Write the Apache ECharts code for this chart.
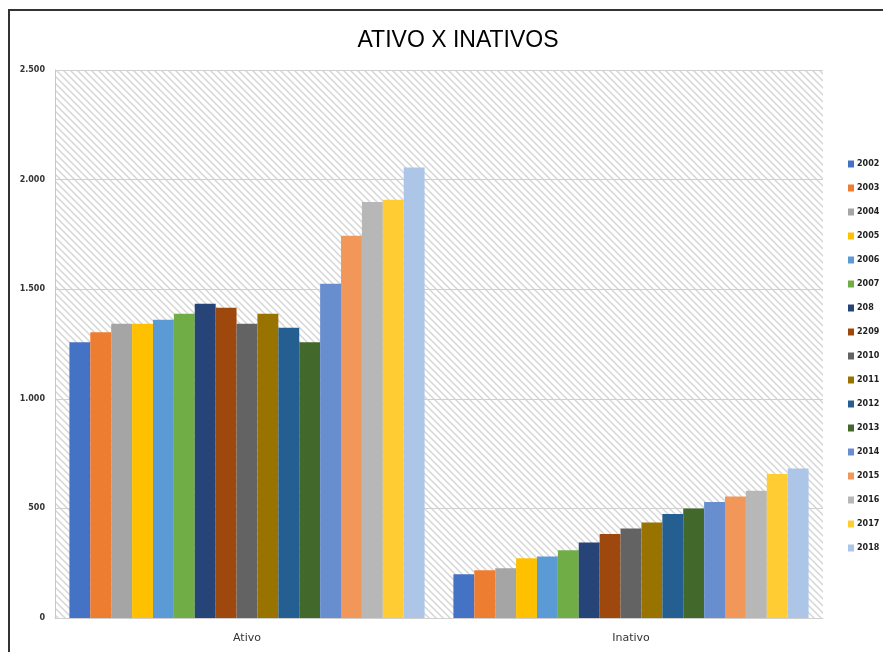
<!DOCTYPE html>
<html>
<head>
<meta charset="utf-8">
<script src="https://cdn.jsdelivr.net/npm/echarts@6/dist/echarts.min.js"></script>
<style>
  html, body { margin: 0; padding: 0; background: #fff; }
  #chart { width: 883px; height: 652px; }
</style>
</head>
<body>
<div id="chart"></div>
<script>
const categories = ['Ativo', 'Inativo'];
const years = ['2002', '2003', '2004', '2005', '2006', '2007', '208', '2209', '2010',
  '2011', '2012', '2013', '2014', '2015', '2016', '2017', '2018'];
const ativo = [1258, 1304, 1342, 1342, 1361, 1388, 1434, 1415, 1342, 1388, 1324, 1258, 1525, 1744, 1898, 1908, 2055];
const inativo = [200, 218, 227, 273, 280, 309, 344, 383, 408, 436, 474, 500, 529, 554, 580, 657, 682];
const colors = ['#4472C4', '#ED7D31', '#A5A5A5', '#FFC000', '#5B9BD5', '#70AD47', '#264478', '#9E480E',
  '#636363', '#997300', '#255E91', '#43682B', '#698ED0', '#F1975A', '#B7B7B7', '#FFCD33', '#ADC5E7'];

// hachura diagonal do fundo
function hatch() {
  const n = 7;
  const c = document.createElement('canvas');
  c.width = n; c.height = n;
  const ctx = c.getContext('2d');
  ctx.fillStyle = '#fff';
  ctx.fillRect(0, 0, n, n);
  ctx.strokeStyle = '#d6d6d6';
  ctx.lineWidth = 1.5;
  ctx.beginPath();
  ctx.moveTo(-1, -1); ctx.lineTo(n + 1, n + 1);
  ctx.moveTo(-1, n - 1); ctx.lineTo(1, n + 1);
  ctx.moveTo(n - 1, -1); ctx.lineTo(n + 1, 1);
  ctx.stroke();
  return c;
}

const fmt = v => v >= 1000 ? Math.floor(v / 1000) + '.' + String(v % 1000).padStart(3, '0') : String(v);

const chart = echarts.init(document.getElementById('chart'));
chart.setOption({
  animation: false,
  color: colors,
  title: {
    text: 'ATIVO X INATIVOS',
    left: 453, top: 24, textAlign: 'center',
    textStyle: { fontFamily: 'Liberation Sans Narrow, Liberation Sans', fontSize: 23, fontWeight: 'normal', color: '#000' }
  },
  graphic: [{
    type: 'rect', shape: { x: 9, y: 10, width: 900, height: 700 },
    style: { fill: 'none', stroke: '#333', lineWidth: 2 }, silent: true
  }],
  legend: {
    orient: 'vertical', left: 843, top: 155, itemWidth: 6, itemHeight: 7, itemGap: 16,
    icon: 'rect',
    textStyle: { fontSize: 8, fontWeight: 'bold', fontFamily: 'DejaVu Sans', color: '#222', padding: [0, 0, 0, -2] }
  },
  grid: {
    left: 55, right: 60, top: 70, bottom: 34, show: true,
    backgroundColor: { image: hatch(), repeat: 'repeat' }, borderWidth: 0
  },
  xAxis: {
    type: 'category', data: categories,
    axisLine: { lineStyle: { color: '#d0d0d0' } },
    axisTick: { show: false },
    axisLabel: { fontSize: 11, color: '#333', margin: 15, fontFamily: 'DejaVu Sans' }
  },
  yAxis: {
    type: 'value', min: 0, max: 2500, interval: 500,
    axisLine: { show: true, lineStyle: { color: '#c8c8c8' } },
    splitLine: { lineStyle: { color: '#d0d0d0' } },
    axisLabel: { fontSize: 8, fontWeight: 'bold', color: '#333', margin: 10, fontFamily: 'DejaVu Sans', formatter: fmt }
  },
  series: years.map((y, i) => ({
    name: y, type: 'bar', data: [ativo[i], inativo[i]],
    barGap: '0%', barCategoryGap: '7.5%'
  }))
});
</script>
</body>
</html>
